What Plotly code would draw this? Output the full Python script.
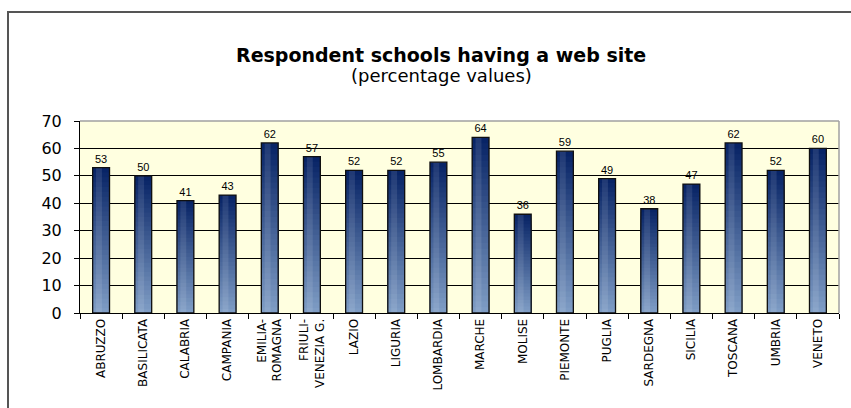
import plotly.graph_objects as go

# Regions and share of respondent schools with a web site (%)
regions = ["ABRUZZO", "BASILICATA", "CALABRIA", "CAMPANIA", "EMILIA-<br>ROMAGNA",
           "FRIULI-<br>VENEZIA G.", "LAZIO", "LIGURIA", "LOMBARDIA", "MARCHE",
           "MOLISE", "PIEMONTE", "PUGLIA", "SARDEGNA", "SICILIA", "TOSCANA",
           "UMBRIA", "VENETO"]
values = [53, 50, 41, 43, 62, 57, 52, 52, 55, 64, 36, 59, 49, 38, 47, 62, 52, 60]
y_ticks = [0, 10, 20, 30, 40, 50, 60, 70]

W, H = 851, 408
ML, MR, MT, MB = 80, 12, 121, 95
PW, PH = W - ML - MR, H - MT - MB


def px_x(px):
    return (px - ML) / PW


def px_y(py):
    return (H - MB - py) / PH


BAR_W = 0.4
N_SEG = 30
TOP = (8, 36, 102)
BOTTOM = (126, 156, 196)

fig = go.Figure()

# vertical gradient: overlapping bars, each shorter and lighter than the last,
# so the dark navy shows at the top and fades to steel blue at the base
for k in range(N_SEG):
    t = k / (N_SEG - 1)
    c = tuple(round(TOP[i] + (BOTTOM[i] - TOP[i]) * t) for i in range(3))
    fig.add_trace(go.Bar(
        x=regions,
        y=[v * (N_SEG - k) / N_SEG for v in values],
        width=BAR_W,
        marker=dict(color="rgb(%d,%d,%d)" % c, line=dict(width=0)),
        hoverinfo="skip", showlegend=False,
    ))

# lighter stripe left of centre for the cylinder-like shading
fig.add_trace(go.Bar(
    x=regions, y=values, width=BAR_W * 0.35, offset=-BAR_W * 0.3,
    marker=dict(color="rgba(255,255,255,0.10)", line=dict(width=0)),
    hoverinfo="skip", showlegend=False,
))

# outline with value labels
fig.add_trace(go.Bar(
    x=regions, y=values, width=BAR_W,
    marker=dict(color="rgba(0,0,0,0)", line=dict(color="#101010", width=1.3)),
    text=[str(v) for v in values], textposition="outside",
    textfont=dict(family="Liberation Sans", size=11, color="#000000"),
    cliponaxis=False, showlegend=False,
))

fig.update_layout(
    barmode="overlay",
    width=W, height=H,
    margin=dict(l=ML, r=MR, t=MT, b=MB),
    paper_bgcolor="#ffffff",
    plot_bgcolor="#ffffe0",
    font=dict(family="DejaVu Sans", color="#000000"),
    xaxis=dict(
        tickangle=-90,
        tickfont=dict(family="DejaVu Sans", size=12),
        showline=True, linecolor="#000000", linewidth=1,
        ticks="outside", ticklen=5, tickcolor="#000000",
        tickson="boundaries",
        showgrid=False,
    ),
    yaxis=dict(
        range=[0, 70], tickvals=y_ticks,
        tickfont=dict(family="DejaVu Sans", size=16),
        ticklabelstandoff=9,
        showline=True, linecolor="#000000", linewidth=1,
        ticks="outside", ticklen=5, tickcolor="#000000",
        showgrid=True, gridcolor="#000000", gridwidth=1,
        zeroline=False,
    ),
    annotations=[
        dict(text="<b>Respondent schools having a web site</b>", xref="paper", yref="paper",
             x=px_x(441), y=px_y(55), xanchor="center", yanchor="middle",
             showarrow=False, font=dict(family="DejaVu Sans", size=19)),
        dict(text="(percentage values)", xref="paper", yref="paper",
             x=px_x(441), y=px_y(75), xanchor="center", yanchor="middle",
             showarrow=False, font=dict(family="DejaVu Sans", size=18)),
    ],
    shapes=[
        # chart frame
        dict(type="rect", xref="paper", yref="paper",
             x0=px_x(8), x1=px_x(W + 5), y0=px_y(H + 5), y1=px_y(12),
             line=dict(color="#555555", width=2), layer="below"),
        # top and right edges of the plot area
        dict(type="line", xref="paper", yref="paper", x0=0, x1=1, y0=1, y1=1,
             line=dict(color="#a0a0a0", width=1.5)),
        dict(type="line", xref="paper", yref="paper", x0=1, x1=1, y0=0, y1=1,
             line=dict(color="#a0a0a0", width=1.5)),
    ],
)

fig.write_html("out.html")
